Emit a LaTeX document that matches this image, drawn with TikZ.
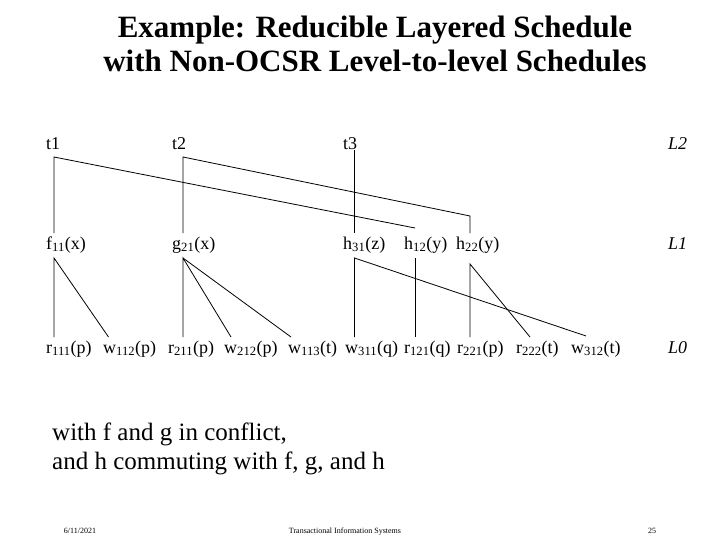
\documentclass[tikz,border=0pt]{standalone}
\usepackage{fontspec}
\setmainfont{Liberation Serif}
\newcommand{\subs}[1]{\textsubscript{#1}}
\begin{document}
\begin{tikzpicture}[x=1pt,y=-1pt,
  lbl/.style={anchor=base west,inner sep=0pt,font=\fontsize{18}{21}\selectfont},
  lvl/.style={anchor=base west,inner sep=0pt,font=\fontsize{18}{21}\selectfont\itshape},
  edge/.style={line width=0.8pt}]
\useasboundingbox (0,0) rectangle (720,540);
\node[anchor=base,font=\fontsize{31}{35}\selectfont\bfseries] (title1) at (375,38) {Example: Reducible Layered Schedule};
\node[anchor=base,font=\fontsize{31}{35}\selectfont\bfseries] (title2) at (375,72) {with Non-OCSR Level-to-level Schedules};
% L2
\node[lbl] (t1) at (46,150) {t1};
\node[lbl] (t2) at (172,150) {t2};
\node[lbl] (t3) at (343,150) {t3};
\node[lvl] (L2) at (668,150) {L2};
% L1
\node[lbl] (f11) at (46,249) {f\subs{11}(x)};
\node[lbl] (g21) at (172,249) {g\subs{21}(x)};
\node[lbl] (h31) at (343,249) {h\subs{31}(z)};
\node[lbl] (h12) at (404,249) {h\subs{12}(y)};
\node[lbl] (h22) at (456,249) {h\subs{22}(y)};
\node[lvl] (L1) at (668,249) {L1};
% L0
\node[lbl] (r111) at (46,353) {r\subs{111}(p)};
\node[lbl] (w112) at (103,353) {w\subs{112}(p)};
\node[lbl] (r211) at (168,353) {r\subs{211}(p)};
\node[lbl] (w212) at (224,353) {w\subs{212}(p)};
\node[lbl] (w113) at (288,353) {w\subs{113}(t)};
\node[lbl] (w311) at (345,353) {w\subs{311}(q)};
\node[lbl] (r121) at (404,353) {r\subs{121}(q)};
\node[lbl] (r221) at (457,353) {r\subs{221}(p)};
\node[lbl] (r222) at (516,353) {r\subs{222}(t)};
\node[lbl] (w312) at (571,353) {w\subs{312}(t)};
\node[lvl] (L0) at (668,353) {L0};
% coordinates
\coordinate (a1) at (54,157); \coordinate (a1b) at (54,233);
\coordinate (a1e) at (415,228);
\coordinate (a2) at (183,157); \coordinate (a2b) at (183,233);
\coordinate (a2e) at (470,216); \coordinate (a2f) at (470,233);
\coordinate (a3) at (354.5,150); \coordinate (a3b) at (354.5,233);
\coordinate (b1) at (54,258); \coordinate (b1b) at (54,337); \coordinate (b1c) at (108.5,337);
\coordinate (b2) at (183,258); \coordinate (b2b) at (183,337); \coordinate (b2c) at (231,337); \coordinate (b2d) at (291,337);
\coordinate (b3) at (354.5,258); \coordinate (b3b) at (354.5,337); \coordinate (b3c) at (586,336);
\coordinate (b4) at (415,258); \coordinate (b4b) at (415,337);
\coordinate (b5) at (470,264); \coordinate (b5b) at (470,337); \coordinate (b5c) at (530,337);
\draw[edge] (a1b) -- (a1) -- (a1e);
\draw[edge] (a2b) -- (a2) -- (a2e) -- (a2f);
\draw[edge] (a3) -- (a3b);
\draw[edge] (b1b) -- (b1) -- (b1c);
\draw[edge] (b2b) -- (b2) -- (b2c); \draw[edge] (b2) -- (b2d);
\draw[edge] (b3b) -- (b3) -- (b3c);
\draw[edge] (b4) -- (b4b);
\draw[edge] (b5b) -- (b5) -- (b5c);
% text
\node[anchor=base west,inner sep=0pt,font=\fontsize{25}{29}\selectfont] (c1) at (52,440) {with f and g in conflict,};
\node[anchor=base west,inner sep=0pt,font=\fontsize{25}{29}\selectfont] (c2) at (52,469) {and h commuting with f, g, and h};
\node[anchor=base,font=\fontsize{8}{10}\selectfont] (d) at (80,533) {6/11/2021};
\node[anchor=base,font=\fontsize{8}{10}\selectfont] (ti) at (345,533) {Transactional Information Systems};
\node[anchor=base,font=\fontsize{8}{10}\selectfont] (pg) at (652,533) {25};
\end{tikzpicture}
\end{document}
